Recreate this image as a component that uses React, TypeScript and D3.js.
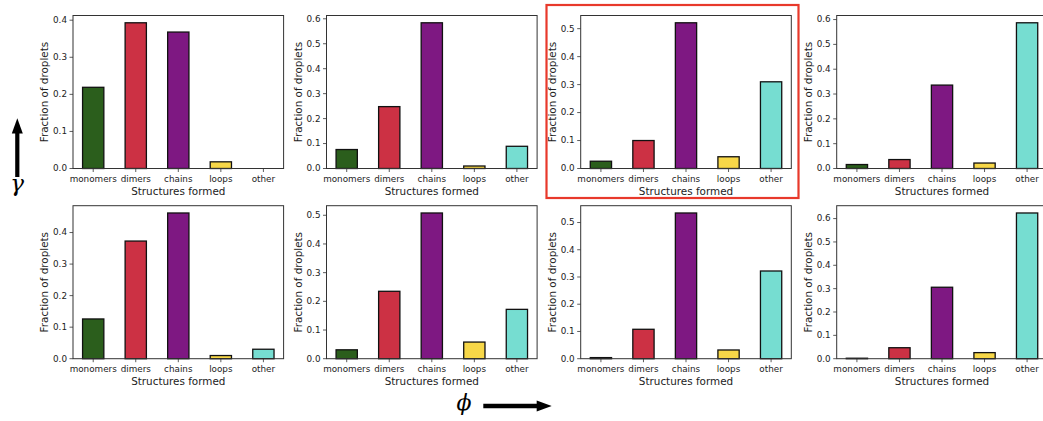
import React from "react";
import * as d3 from "d3";

// Structure categories shown on every panel's x axis
const categories = ["monomers", "dimers", "chains", "loops", "other"];
const barColors = ["#2b5e1c", "#cc3144", "#7e1882", "#f7d748", "#76ddd1"];

// Fraction of droplets per structure, one array per (gamma row, phi column) panel
const topRow1 = [0.219, 0.393, 0.368, 0.018, 0.0];
const topRow2 = [0.076, 0.248, 0.584, 0.010, 0.089];
const topRow3 = [0.026, 0.100, 0.521, 0.042, 0.310];
const topRow4 = [0.016, 0.036, 0.336, 0.022, 0.587];
const bottomRow1 = [0.126, 0.373, 0.462, 0.010, 0.030];
const bottomRow2 = [0.031, 0.235, 0.508, 0.058, 0.172];
const bottomRow3 = [0.004, 0.108, 0.535, 0.032, 0.322];
const bottomRow4 = [0.002, 0.047, 0.306, 0.026, 0.624];

const xLabel = "Structures formed";
const yLabel = "Fraction of droplets";

const W = 1043;
const H = 421;
const colLefts = [73, 326.5, 580.7, 836.7];
const rowTops = [15.5, 205.7];
const axW = 210.6;
const axH = 153;
const FONT = "DejaVu Sans, sans-serif";

type PanelProps = { values: number[]; left: number; top: number };

function Panel({ values, left, top }: PanelProps) {
  const ymax = (d3.max(values) ?? 0) * 1.05;
  const x = d3.scaleLinear().domain([-0.475, 4.475]).range([0, axW]);
  const y = d3.scaleLinear().domain([0, ymax]).range([axH, 0]);
  const ticks = y.ticks(5);
  const fmt = d3.format(".1f");
  const bw = x(0.5) - x(0);
  return (
    <g transform={`translate(${left},${top})`}>
      {values.map((v, i) => (
        <rect
          key={i}
          x={x(i) - bw / 2}
          y={y(v)}
          width={bw}
          height={y(0) - y(v)}
          fill={barColors[i]}
          stroke="#111"
          strokeWidth={1.3}
        />
      ))}
      <rect x={0} y={0} width={axW} height={axH} fill="none" stroke="#333" strokeWidth={1} />
      {ticks.map((t) => (
        <g key={t} transform={`translate(0,${y(t)})`}>
          <line x1={-3.5} x2={0} stroke="#333" strokeWidth={0.8} />
          <text x={-6} dy="0.33em" textAnchor="end" fontSize={8.8} fill="#222" fontFamily={FONT}>
            {fmt(t)}
          </text>
        </g>
      ))}
      {categories.map((c, i) => (
        <g key={c} transform={`translate(${x(i)},${axH})`}>
          <line y1={0} y2={3.5} stroke="#333" strokeWidth={0.8} />
          <text y={13} textAnchor="middle" fontSize={8.8} fill="#222" fontFamily={FONT}>
            {c}
          </text>
        </g>
      ))}
      <text x={axW / 2} y={axH + 26} textAnchor="middle" fontSize={10.4} fill="#222" fontFamily={FONT}>
        {xLabel}
      </text>
      <text
        transform={`translate(-28.4,${axH / 2}) rotate(-90)`}
        dy="0.35em"
        textAnchor="middle"
        fontSize={10.4}
        fill="#222"
        fontFamily={FONT}
      >
        {yLabel}
      </text>
    </g>
  );
}

export default function App() {
  const rows = [
    [topRow1, topRow2, topRow3, topRow4],
    [bottomRow1, bottomRow2, bottomRow3, bottomRow4],
  ];
  return (
    <svg
      width={W}
      height={H}
      style={{ position: "absolute", left: 0, top: 0, background: "#fff" }}
    >
      <rect width={W} height={H} fill="#fff" />
      {rows.map((row, r) =>
        row.map((vals, c) => (
          <Panel key={`${r}-${c}`} values={vals} left={colLefts[c]} top={rowTops[r]} />
        ))
      )}
      {/* highlighted panel */}
      <rect x={546.5} y={5} width={252} height={193} fill="none" stroke="#e8392b" strokeWidth={2.2} />
      {/* gamma direction arrow */}
      <line x1={17.3} y1={177} x2={17.3} y2={131} stroke="#000" strokeWidth={4.2} />
      <path d="M11.8,133.5 L17.3,118.3 L22.8,133.5 Z" fill="#000" />
      <text x={17} y={191} textAnchor="middle" fontSize={23} fontStyle="italic" fontFamily="DejaVu Serif, serif">
        γ
      </text>
      {/* phi direction arrow */}
      <text x={464} y={410} textAnchor="middle" fontSize={22} fontStyle="italic" fontFamily="DejaVu Serif, serif">
        ϕ
      </text>
      <line x1={483.3} y1={406} x2={539} y2={406} stroke="#000" strokeWidth={4.3} />
      <path d="M536.7,400.5 L551.7,406 L536.7,411.5 Z" fill="#000" />
    </svg>
  );
}
